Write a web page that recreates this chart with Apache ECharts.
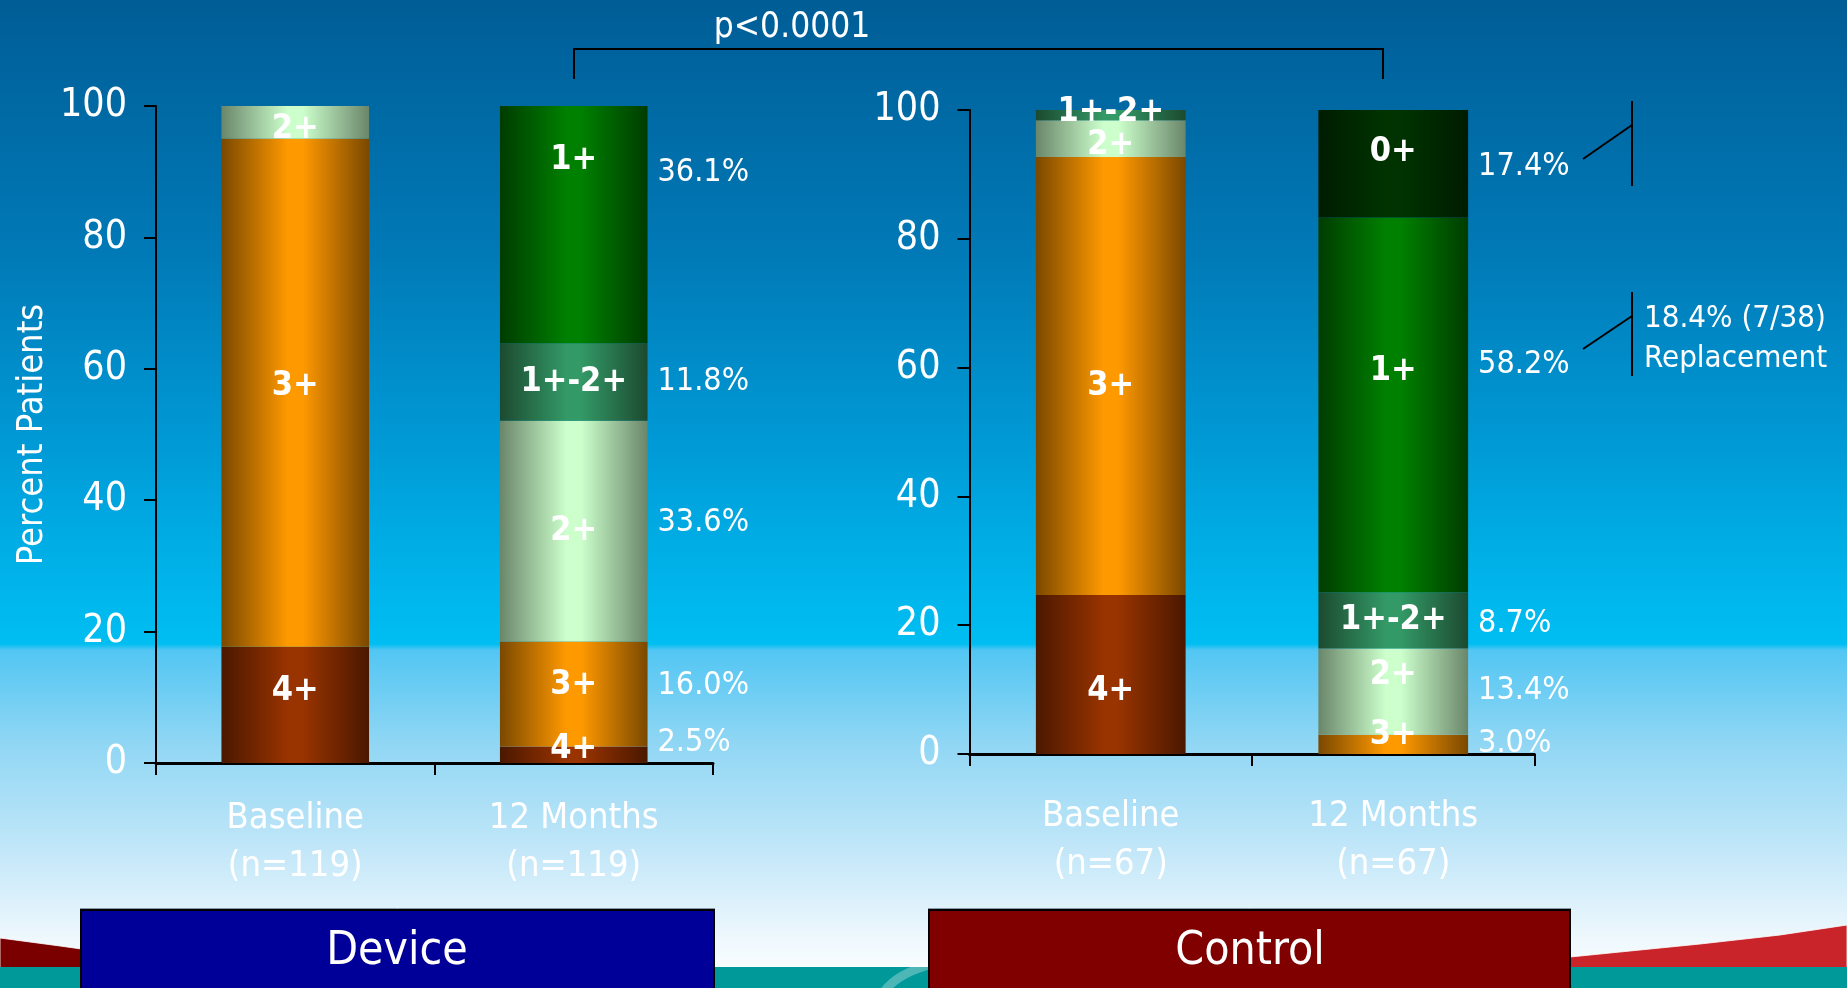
<!DOCTYPE html>
<html>
<head>
<meta charset="utf-8">
<title>Regurgitation grade – Device vs Control</title>
<script src="https://cdn.jsdelivr.net/npm/echarts@6/dist/echarts.min.js"></script>
<style>
  html, body { margin: 0; padding: 0; width: 1847px; height: 988px; overflow: hidden; }
  #chart { width: 1847px; height: 988px; }
</style>
</head>
<body>
<div id="chart"></div>
<script>
// ---- data -------------------------------------------------------------
const grades = ['4+', '3+', '2+', '1+-2+', '1+', '0+'];
const deviceCategories = ['Baseline\n(n=119)', '12 Months\n(n=119)'];
const controlCategories = ['Baseline\n(n=67)', '12 Months\n(n=67)'];
const yTickValues = [0, 20, 40, 60, 80, 100];

// percent of patients in each grade: [Baseline, 12 Months]
const device4 = [17.7, 2.5];
const device3 = [77.3, 16.0];
const device2 = [5.0, 33.6];
const device12 = [null, 11.8];
const device1 = [null, 36.1];
const device0 = [null, null];

const control4 = [24.7, null];
const control3 = [68.0, 3.0];
const control2 = [5.7, 13.4];
const control12 = [1.6, 8.7];
const control1 = [null, 58.2];
const control0 = [null, 17.4];

const panelTitles = ['Device', 'Control'];
const pValueText = 'p<0.0001';
const replacementNote = '18.4% (7/38)\nReplacement';

// ---- styling ----------------------------------------------------------
const FONT = "'DejaVu Sans Condensed', 'DejaVu Sans', sans-serif";

const gradeColors = {
  '4+':    ['#4a1800', '#993300'],
  '3+':    ['#7a4800', '#ff9900'],
  '2+':    ['#6a866a', '#ccffcc'],
  '1+-2+': ['#1c4a30', '#339966'],
  '1+':    ['#003c00', '#008000'],
  '0+':    ['#001c00', '#003300']
};

// vertical label nudges (px): inside = [Baseline, 12 Months], pct = 12-month side label
const nudge = {
  device: {
    inside: { '4+': [-14, -6], '3+': [-7, -9], '2+': [7, 0], '1+': [0, -64] },
    pct: { '4+': -12, '3+': -8, '2+': -8, '1+': -52 }
  },
  control: {
    inside: { '4+': [17, 0], '3+': [10, -9], '2+': [7, -16], '1+-2+': [-3, 0], '1+': [0, -34], '0+': [0, -12] },
    pct: { '3+': -1, '2+': -1, '1+-2+': 3, '1+': -40, '0+': 3 }
  }
};

function barFill(g) {
  const [edge, mid] = gradeColors[g];
  return new echarts.graphic.LinearGradient(0, 0, 1, 0, [
    { offset: 0, color: edge },
    { offset: 0.45, color: mid },
    { offset: 0.55, color: mid },
    { offset: 1, color: edge }
  ]);
}

function panelSeries(axisIndex, key, values) {
  const out = [];
  grades.forEach(g => {
    const v = values[g];
    if (!v || v.every(x => x == null)) return;
    const inside = nudge[key].inside[g] || [0, 0];
    out.push({
      type: 'bar',
      name: g,
      xAxisIndex: axisIndex,
      yAxisIndex: axisIndex,
      stack: 'grade' + axisIndex,
      barWidth: '53%',
      barGap: '-100%',
      itemStyle: { color: barFill(g) },
      label: {
        show: true,
        position: 'inside',
        formatter: g,
        color: '#ffffff',
        fontFamily: FONT,
        fontWeight: 'bold',
        fontSize: 34
      },
      data: v.map((val, i) => val == null ? '-' : { value: val, label: { offset: [0, inside[i]] } })
    });
    // percentage text to the right of the 12-month bar
    if (v[1] != null) {
      out.push({
        type: 'bar',
        name: g + ' %',
        xAxisIndex: axisIndex,
        yAxisIndex: axisIndex,
        stack: 'pct' + axisIndex,
        barWidth: '53%',
        barGap: '-100%',
        silent: true,
        itemStyle: { color: 'rgba(0,0,0,0)' },
        label: {
          show: true,
          position: 'right',
          distance: 10,
          formatter: p => Number(p.value).toFixed(1) + '%',
          color: '#ffffff',
          fontFamily: FONT,
          fontSize: 32
        },
        data: v.map((val, i) => i === 1 ? { value: val, label: { offset: [0, nudge[key].pct[g] || 0] } } : '-')
      });
    }
  });
  return out;
}

function xAxisFor(gridIndex, cats, margin) {
  return {
    gridIndex, type: 'category', data: cats,
    axisLine: { lineStyle: { color: '#000000', width: 3 } },
    axisTick: { show: true, length: 12, lineStyle: { color: '#000000', width: 2 } },
    axisLabel: { color: '#ffffff', fontFamily: FONT, fontSize: 36, lineHeight: 48, margin }
  };
}

function yAxisFor(gridIndex, withName) {
  const ax = {
    gridIndex, type: 'value',
    min: yTickValues[0], max: yTickValues[yTickValues.length - 1],
    interval: yTickValues[1] - yTickValues[0],
    axisLine: { show: true, lineStyle: { color: '#000000', width: 2 } },
    axisTick: { show: true, length: 12, lineStyle: { color: '#000000', width: 2 } },
    splitLine: { show: false },
    axisLabel: { color: '#ffffff', fontFamily: FONT, fontSize: 39, margin: 29 }
  };
  if (withName) {
    ax.name = 'Percent Patients';
    ax.nameLocation = 'middle';
    ax.nameGap = 105;
    ax.nameTextStyle = { color: '#ffffff', fontFamily: FONT, fontSize: 36 };
  }
  return ax;
}

const deviceValues = { '4+': device4, '3+': device3, '2+': device2, '1+-2+': device12, '1+': device1, '0+': device0 };
const controlValues = { '4+': control4, '3+': control3, '2+': control2, '1+-2+': control12, '1+': control1, '0+': control0 };

const black = { stroke: '#000000', lineWidth: 2 };

const option = {
  animation: false,
  backgroundColor: new echarts.graphic.LinearGradient(0, 0, 0, 1, [
    { offset: 0, color: '#005d96' },
    { offset: 0.25, color: '#0079b6' },
    { offset: 0.45, color: '#009ad6' },
    { offset: 0.6, color: '#00b6ec' },
    { offset: 0.652, color: '#00bef2' },
    { offset: 0.658, color: '#52c6f3' },
    { offset: 0.75, color: '#8fd6f4' },
    { offset: 0.85, color: '#bde5f8' },
    { offset: 0.95, color: '#eef8fd' },
    { offset: 1, color: '#ffffff' }
  ]),
  grid: [
    { left: 156, top: 106, width: 557, height: 657 },
    { left: 969.5, top: 110, width: 565, height: 644 }
  ],
  xAxis: [xAxisFor(0, deviceCategories, 32), xAxisFor(1, controlCategories, 39)],
  yAxis: [yAxisFor(0, true), yAxisFor(1, false)],
  series: [].concat(panelSeries(0, 'device', deviceValues), panelSeries(1, 'control', controlValues)),
  graphic: [
    // lower swoosh and band
    { type: 'polygon', shape: { points: [[0, 938], [60, 946], [110, 953], [110, 968], [0, 968]] },
      style: { fill: '#7a0000', stroke: 'rgba(255,255,255,0.8)', lineWidth: 1 } },
    { type: 'polygon', shape: { points: [[1540, 960], [1620, 952], [1700, 944], [1780, 935], [1847, 925], [1847, 968], [1540, 968]] },
      style: { fill: '#c8242a', stroke: 'rgba(255,255,255,0.8)', lineWidth: 1 } },
    { type: 'rect', shape: { x: 0, y: 967, width: 1847, height: 21 }, style: { fill: '#009999' } },
    { type: 'bezierCurve', shape: { x1: 884, y1: 992, cpx1: 896, cpy1: 974, x2: 932, y2: 964 },
      style: { stroke: 'rgba(255,255,255,0.3)', lineWidth: 9, fill: null } },
    // group boxes
    { type: 'rect', shape: { x: 81, y: 910, width: 633, height: 84 },
      style: { fill: '#000099', stroke: '#000000', lineWidth: 2 } },
    { type: 'line', shape: { x1: 80, y1: 908.5, x2: 715, y2: 908.5 }, style: { stroke: '#8a99a8', lineWidth: 1 } },
    { type: 'text', style: { text: panelTitles[0], x: 397, y: 952, align: 'center', verticalAlign: 'middle',
      fill: '#ffffff', fontFamily: FONT, fontSize: 46 } },
    { type: 'rect', shape: { x: 929, y: 910, width: 641, height: 84 },
      style: { fill: '#800000', stroke: '#000000', lineWidth: 2 } },
    { type: 'line', shape: { x1: 928, y1: 908.5, x2: 1571, y2: 908.5 }, style: { stroke: '#8a99a8', lineWidth: 1 } },
    { type: 'text', style: { text: panelTitles[1], x: 1250, y: 952, align: 'center', verticalAlign: 'middle',
      fill: '#ffffff', fontFamily: FONT, fontSize: 46 } },
    // significance bracket between the two 12-month bars
    { type: 'polyline', shape: { points: [[574, 79], [574, 49], [1383, 49], [1383, 79]] }, style: Object.assign({ fill: null }, black) },
    { type: 'text', style: { text: pValueText, x: 792, y: 28, align: 'center', verticalAlign: 'middle',
      fill: '#ffffff', fontFamily: FONT, fontSize: 35 } },
    // replacement callout
    { type: 'line', shape: { x1: 1632, y1: 101, x2: 1632, y2: 186 }, style: black },
    { type: 'line', shape: { x1: 1583, y1: 159, x2: 1632, y2: 125 }, style: black },
    { type: 'line', shape: { x1: 1632, y1: 292, x2: 1632, y2: 376 }, style: black },
    { type: 'line', shape: { x1: 1583, y1: 349, x2: 1632, y2: 316 }, style: black },
    { type: 'text', style: { text: replacementNote, x: 1644, y: 339, align: 'left', verticalAlign: 'middle',
      lineHeight: 40, fill: '#ffffff', fontFamily: FONT, fontSize: 31 } }
  ]
};

const chart = echarts.init(document.getElementById('chart'), null, { renderer: 'canvas' });
chart.setOption(option);
</script>
</body>
</html>
